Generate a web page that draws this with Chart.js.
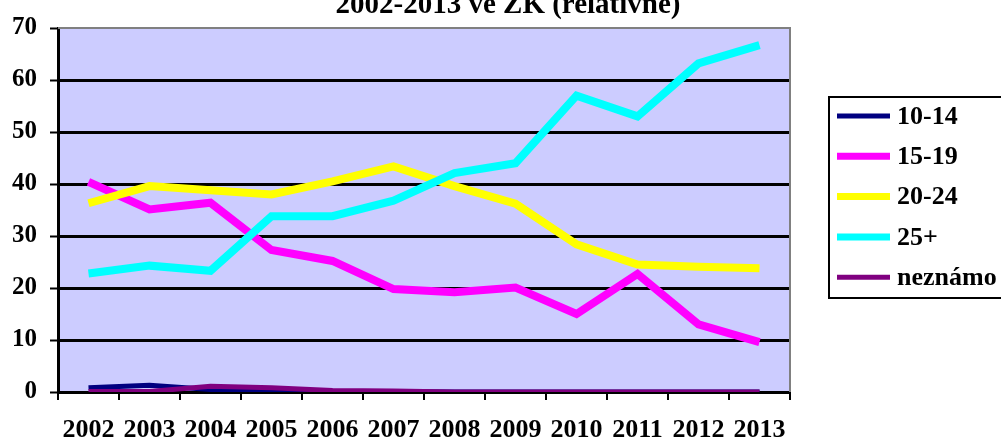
<!DOCTYPE html>
<html>
<head>
<meta charset="utf-8">
<script src="https://cdn.jsdelivr.net/npm/chart.js@4/dist/chart.umd.min.js"></script>
<style>
  html, body { margin: 0; padding: 0; background: #fff; }
  #wrap { width: 1001px; height: 441px; position: relative; }
</style>
</head>
<body>
<div id="wrap"><canvas id="chart"></canvas></div>
<script>
// values
const years = ['2002', '2003', '2004', '2005', '2006', '2007', '2008', '2009', '2010', '2011', '2012', '2013'];
const age10_14 = [0.8, 1.3, 0.5, 0.2, 0.1, 0.1, 0, 0, 0, 0, 0, 0];
const age15_19 = [40.4, 35.1, 36.4, 27.3, 25.2, 19.8, 19.2, 20.1, 15.0, 22.7, 13.0, 9.6];
const age20_24 = [36.3, 39.6, 38.8, 38.0, 40.5, 43.4, 39.6, 36.2, 28.4, 24.5, 24.1, 23.8];
const age25plus = [22.8, 24.3, 23.3, 33.8, 33.8, 36.8, 42.1, 44.0, 57.0, 53.0, 63.2, 66.7];
const unknown = [0.1, 0.1, 1.1, 0.8, 0.3, 0.2, 0, 0, 0, 0, 0, 0];
const yTicks = [0, 10, 20, 30, 40, 50, 60, 70];

const titleText = '2002-2013 ve ZK (relativně)';
const FONT = '"Liberation Serif", "Times New Roman", serif';

const series = [
  { label: '10-14', data: age10_14, color: '#000080', width: 5 },
  { label: '15-19', data: age15_19, color: '#FF00FF', width: 8 },
  { label: '20-24', data: age20_24, color: '#FFFF00', width: 8 },
  { label: '25+', data: age25plus, color: '#00FFFF', width: 8 },
  { label: 'neznámo', data: unknown, color: '#800080', width: 5 }
];

// plot background, gray top/right frame, title and legend box
const decor = {
  id: 'decor',
  beforeDraw(chart) {
    const { ctx, chartArea: a } = chart;
    ctx.save();
    ctx.fillStyle = '#CCCCFF';
    ctx.fillRect(a.left, a.top, a.right - a.left, a.bottom - a.top);
    ctx.restore();
  },
  afterDatasetsDraw(chart) {
    const { ctx, chartArea: a } = chart;
    ctx.save();
    ctx.strokeStyle = '#808080';
    ctx.lineWidth = 2;
    ctx.beginPath();
    ctx.moveTo(a.left, a.top);
    ctx.lineTo(a.right, a.top);
    ctx.lineTo(a.right, a.bottom);
    ctx.stroke();
    ctx.restore();
  },
  afterDraw(chart) {
    const ctx = chart.ctx;
    ctx.save();
    // title (top is cut off in the original)
    ctx.fillStyle = '#000';
    ctx.font = 'bold 29px ' + FONT;
    ctx.textAlign = 'center';
    ctx.textBaseline = 'alphabetic';
    ctx.fillText(titleText, 508, 13);

    // legend
    ctx.strokeStyle = '#000';
    ctx.lineWidth = 2;
    ctx.strokeRect(829, 97, 180, 201);
    ctx.font = 'bold 26px ' + FONT;
    ctx.textAlign = 'left';
    ctx.textBaseline = 'middle';
    series.forEach((s, i) => {
      const y = 116 + i * 40.3;
      ctx.strokeStyle = s.color;
      ctx.lineWidth = s.width === 8 ? 7 : 5;
      ctx.beginPath();
      ctx.moveTo(837, y);
      ctx.lineTo(890, y);
      ctx.stroke();
      ctx.fillStyle = '#000';
      ctx.fillText(s.label, 897, y + 1);
    });
    ctx.restore();
  }
};

new Chart(document.getElementById('chart'), {
  type: 'line',
  data: {
    labels: years,
    datasets: series.map((s, i) => ({
      label: s.label,
      data: s.data,
      borderColor: s.color,
      backgroundColor: s.color,
      borderWidth: s.width,
      pointRadius: 0,
      tension: 0,
      fill: false,
      order: series.length - i
    }))
  },
  options: {
    responsive: true,
    maintainAspectRatio: false,
    animation: false,
    layout: { padding: { left: 0, right: 211, top: 26, bottom: 0 } },
    plugins: {
      legend: { display: false },
      tooltip: { enabled: false },
      title: { display: false }
    },
    scales: {
      x: {
        offset: true,
        grid: {
          offset: true,
          drawOnChartArea: false,
          drawTicks: true,
          tickLength: 8,
          tickColor: '#000',
          lineWidth: 2
        },
        border: { display: true, color: '#000', width: 3 },
        ticks: {
          autoSkip: false,
          maxRotation: 0,
          padding: 15,
          color: '#000',
          font: { family: FONT, size: 26, weight: 'bold' }
        },
        afterFit(scale) { scale.height = 49; }
      },
      y: {
        min: 0,
        max: 70,
        afterBuildTicks(scale) { scale.ticks = yTicks.map(v => ({ value: v })); },
        grid: {
          color: ctx => ctx.tick && ctx.tick.value === 70 ? 'rgba(0,0,0,0)' : '#000',
          lineWidth: 3,
          drawTicks: true,
          tickLength: 8,
          tickColor: '#000',
          tickWidth: 2
        },
        border: { display: true, color: '#000', width: 3 },
        ticks: {
          padding: 13,
          color: '#000',
          font: { family: FONT, size: 25, weight: 'bold' }
        },
        afterFit(scale) { scale.width = 58; }
      }
    }
  },
  plugins: [decor]
});
</script>
</body>
</html>
